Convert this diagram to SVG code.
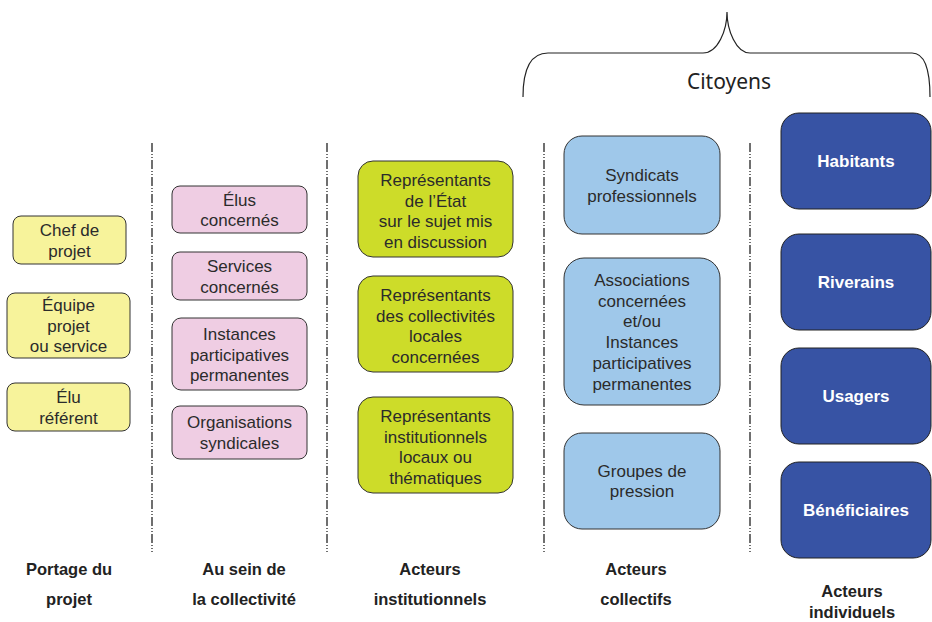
<svg xmlns="http://www.w3.org/2000/svg" width="932" height="622" viewBox="0 0 932 622">
<style>
.t{font-family:"Liberation Sans",Arial,sans-serif;font-size:17px;fill:#2b2b2b;text-anchor:middle}
.w{font-family:"Liberation Sans",Arial,sans-serif;font-size:17px;font-weight:bold;fill:#fff;text-anchor:middle}
.h{font-family:"Liberation Sans",Arial,sans-serif;font-size:16.5px;font-weight:bold;fill:#222;text-anchor:middle}
.sep{stroke:#333;stroke-width:1.4;stroke-dasharray:9 2 1 2 1 2;fill:none}
.y{fill:#f7f39b;stroke:#333;stroke-width:1}
.p{fill:#efcde3;stroke:#333;stroke-width:1}
.g{fill:#cddc29;stroke:#333;stroke-width:1}
.lb{fill:#9fc8ea;stroke:#333;stroke-width:1}
.db{fill:#3753a4;stroke:#222;stroke-width:1}
</style>
<rect width="932" height="622" fill="#fff"/>
<g id="separators">
<line class="sep" x1="152" y1="143" x2="152" y2="552"/>
<line class="sep" x1="327" y1="143" x2="327" y2="552"/>
<line class="sep" x1="544" y1="143" x2="544" y2="552"/>
<line class="sep" x1="750" y1="143" x2="750" y2="552"/>
</g>
<g id="citoyens">
<path d="M523,97 C523,70 530,53 548,53 L703,53 C718,53 727,30 727,12 C727,30 736,53 750,53 L912,53 C925,53 930,70 930,97" fill="none" stroke="#222" stroke-width="1.2"/>
<text x="729" y="89" style="font-family:'Noto Sans','Open Sans',sans-serif;font-size:21px;fill:#222;text-anchor:middle">Citoyens</text>
</g>
<g id="chef">
<rect class="y" x="13" y="216" width="113" height="48" rx="8"/>
<text class="t" x="69.5" y="236">Chef de</text><text class="t" x="69.5" y="256.5">projet</text>
</g>
<g id="equipe">
<rect class="y" x="7" y="293" width="123" height="65" rx="8"/>
<text class="t" x="68.5" y="311">Équipe</text><text class="t" x="68.5" y="331.5">projet</text><text class="t" x="68.5" y="352">ou service</text>
</g>
<g id="elu">
<rect class="y" x="7" y="383" width="123" height="48" rx="8"/>
<text class="t" x="68.5" y="403">Élu</text><text class="t" x="68.5" y="423.5">référent</text>
</g>
<g id="elus">
<rect class="p" x="172" y="186" width="135" height="47" rx="8"/>
<text class="t" x="239.5" y="205.5">Élus</text><text class="t" x="239.5" y="226">concernés</text>
</g>
<g id="services">
<rect class="p" x="172" y="252" width="135" height="48" rx="8"/>
<text class="t" x="239.5" y="272">Services</text><text class="t" x="239.5" y="292.5">concernés</text>
</g>
<g id="instances">
<rect class="p" x="172" y="318" width="135" height="72" rx="9"/>
<text class="t" x="239.5" y="340">Instances</text><text class="t" x="239.5" y="360.5">participatives</text><text class="t" x="239.5" y="381">permanentes</text>
</g>
<g id="organisations">
<rect class="p" x="172" y="406" width="135" height="53" rx="8"/>
<text class="t" x="239.5" y="428">Organisations</text><text class="t" x="239.5" y="448.5">syndicales</text>
</g>
<g id="etat">
<rect class="g" x="358" y="161" width="155" height="96" rx="15"/>
<text class="t" x="435.5" y="186">Représentants</text><text class="t" x="435.5" y="206.5">de l’État</text><text class="t" x="435.5" y="227">sur le sujet mis</text><text class="t" x="435.5" y="247.5">en discussion</text>
</g>
<g id="collectivites">
<rect class="g" x="358" y="276" width="155" height="96" rx="15"/>
<text class="t" x="435.5" y="301">Représentants</text><text class="t" x="435.5" y="321.5">des collectivités</text><text class="t" x="435.5" y="342">locales</text><text class="t" x="435.5" y="362.5">concernées</text>
</g>
<g id="institutionnels">
<rect class="g" x="358" y="397" width="155" height="96" rx="15"/>
<text class="t" x="435.5" y="422">Représentants</text><text class="t" x="435.5" y="442.5">institutionnels</text><text class="t" x="435.5" y="463">locaux ou</text><text class="t" x="435.5" y="483.5">thématiques</text>
</g>
<g id="syndicats">
<rect class="lb" x="564" y="136" width="156" height="98" rx="18"/>
<text class="t" x="642" y="181">Syndicats</text><text class="t" x="642" y="201.5">professionnels</text>
</g>
<g id="associations">
<rect class="lb" x="564" y="258" width="156" height="147" rx="20"/>
<text class="t" x="642" y="286">Associations</text><text class="t" x="642" y="306.7">concernées</text><text class="t" x="642" y="327.4">et/ou</text><text class="t" x="642" y="348.1">Instances</text><text class="t" x="642" y="368.8">participatives</text><text class="t" x="642" y="389.5">permanentes</text>
</g>
<g id="groupes">
<rect class="lb" x="564" y="433" width="156" height="96" rx="18"/>
<text class="t" x="642" y="476.5">Groupes de</text><text class="t" x="642" y="497">pression</text>
</g>
<g id="habitants">
<rect class="db" x="781" y="113" width="150" height="96" rx="18"/>
<text class="w" x="856" y="167">Habitants</text>
</g>
<g id="riverains">
<rect class="db" x="781" y="234" width="150" height="96" rx="18"/>
<text class="w" x="856" y="288">Riverains</text>
</g>
<g id="usagers">
<rect class="db" x="781" y="348" width="150" height="96" rx="18"/>
<text class="w" x="856" y="402">Usagers</text>
</g>
<g id="beneficiaires">
<rect class="db" x="781" y="462" width="150" height="96" rx="18"/>
<text class="w" x="856" y="516">Bénéficiaires</text>
</g>
<g id="labels">
<text class="h" x="69" y="575">Portage du</text><text class="h" x="69" y="605">projet</text>
<text class="h" x="244" y="575">Au sein de</text><text class="h" x="244" y="605">la collectivité</text>
<text class="h" x="430" y="575">Acteurs</text><text class="h" x="430" y="605">institutionnels</text>
<text class="h" x="636" y="575">Acteurs</text><text class="h" x="636" y="605">collectifs</text>
<text class="h" x="852" y="597">Acteurs</text><text class="h" x="852" y="618">individuels</text>
</g>
</svg>
